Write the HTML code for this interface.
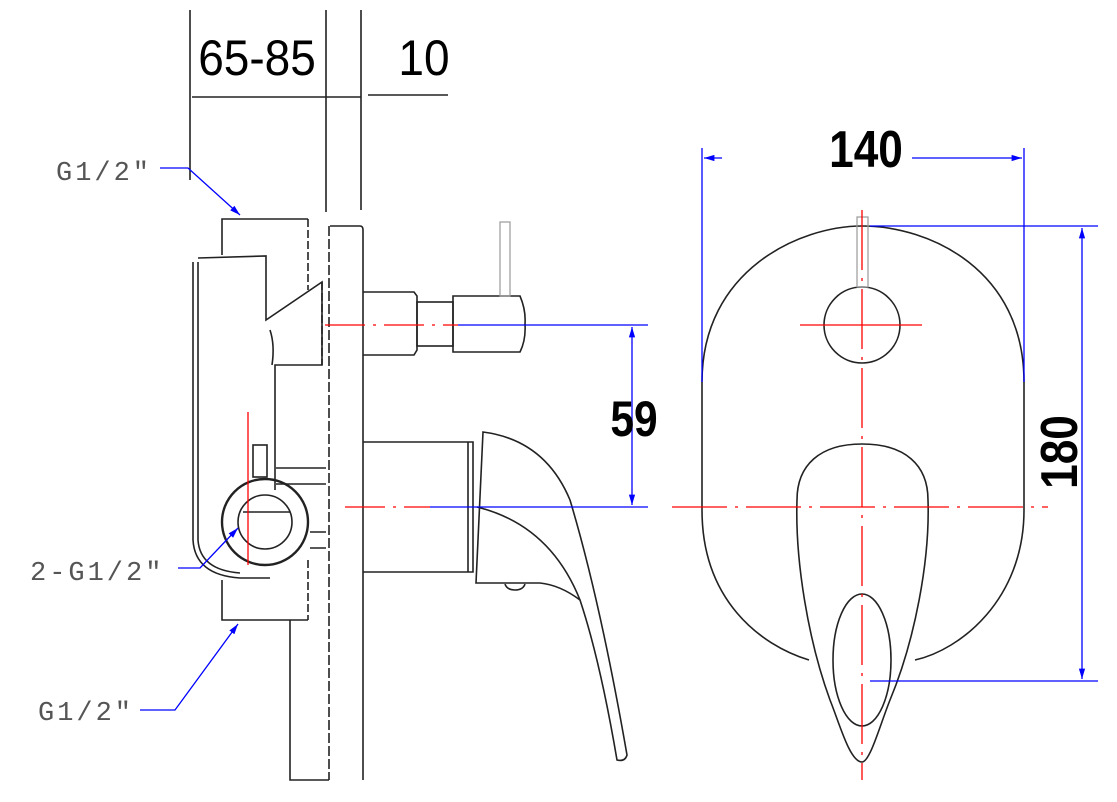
<!DOCTYPE html>
<html><head><style>body{margin:0;background:#fff}svg{display:block}</style></head><body>
<svg width="1117" height="802" viewBox="0 0 1117 802" xmlns="http://www.w3.org/2000/svg">
<defs>
<marker id="a" viewBox="0 0 10 10" refX="10" refY="5" markerWidth="8" markerHeight="10" orient="auto-start-reverse"><path d="M0,2 L10,5 L0,8 Z" fill="#0000ff"/></marker>
</defs>
<g fill="none" stroke="#222" stroke-width="1.6">
<line x1="190" y1="10" x2="190" y2="180"/>
<line x1="326" y1="10" x2="326" y2="212"/>
<line x1="361" y1="10" x2="361" y2="210"/>
<line x1="192" y1="97" x2="326" y2="97"/>
<line x1="326" y1="97" x2="361" y2="97"/>
<line x1="368" y1="95" x2="448" y2="95"/>
<path d="M222,255 V219 H308"/>
<path d="M308,219 V290" stroke-dasharray="8,3"/>
<path d="M193,262 V540 Q195,575 240,578 L270,578"/>
<path d="M198,258 L266,256 V320 L322,282 V365 H275 V490"/>
<path d="M198,262 V540 Q200,570 240,573"/>
<path d="M270,330 Q275,345 272,365"/>
<line x1="322" y1="282" x2="322" y2="365" stroke-dasharray="8,3"/>
<path d="M330,226 H360 Q363,226 363,230 V780"/>
<line x1="329" y1="226" x2="329" y2="780" stroke-dasharray="10,3"/>
<path d="M290,620 V780 H329"/>
<path d="M363,292 H414 L417,296 V350 L414,355 H363"/>
<rect x="417" y="302" width="36" height="44"/>
<path d="M453,296 H520 Q526,310 525,324 Q526,340 520,352 H453 Z"/>
<rect x="500" y="222" width="10" height="74" stroke="#999" stroke-width="1.2"/>
<path d="M363,442 H473 V572 H363"/>
<line x1="468" y1="442" x2="468" y2="572"/>
<path d="M276,468 H326 M276,484 H326 M310,532 H326 M310,548 H326"/>
<rect x="253" y="445" width="14" height="32"/>
<path d="M483,432 Q545,440 570,500 Q600,600 627,755 Q625,762 617,760 Q600,660 580,600 Q560,585 540,583 H476 Z"/>
<path d="M477,507 Q550,525 580,600"/>
<path d="M505,584 Q507,590 515,590 Q523,590 525,584"/>
<circle cx="265" cy="522" r="43" stroke-width="2.4"/>
<circle cx="265" cy="522" r="27"/>
<line x1="243" y1="512" x2="290" y2="512"/>
<path d="M222,580 V620 H308"/>
<line x1="308" y1="560" x2="308" y2="620" stroke-dasharray="8,3"/>
<path d="M702,382 C702,270 800,226 862,226 C930,226 1024,270 1024,382 V510 C1024,600 960,650 915,660"/>
<path d="M702,382 V510 C702,600 760,645 809,660"/>
<circle cx="862" cy="325" r="38"/>
<rect x="857" y="217" width="11" height="70" stroke="#999" stroke-width="1.2"/>
<path d="M862,444 C905,444 928,465 928,500 C930,560 915,640 890,700 C880,725 870,762 862,762 C850,762 840,725 830,700 C808,640 795,560 797,500 C797,465 820,444 862,444 Z"/>
<ellipse cx="862" cy="660" rx="29" ry="66"/>
</g>
<g stroke="#ff0000" stroke-width="1.3" fill="none">
<line x1="325" y1="325" x2="458" y2="325" stroke-dasharray="40,8,3,8"/>
<line x1="345" y1="507" x2="430" y2="507" stroke-dasharray="40,8,3,8"/>
<line x1="248" y1="412" x2="248" y2="565"/>
<line x1="862" y1="210" x2="862" y2="780" stroke-dasharray="60,8,3,8"/>
<line x1="672" y1="507" x2="1048" y2="507" stroke-dasharray="55,8,3,8"/>
<line x1="800" y1="325" x2="922" y2="325"/>
</g>
<g stroke="#0000ff" stroke-width="1.3" fill="none">
<line x1="458" y1="325" x2="648" y2="325"/>
<line x1="430" y1="507" x2="648" y2="507"/>
<line x1="632" y1="327" x2="632" y2="505" marker-start="url(#a)" marker-end="url(#a)"/>
<line x1="702" y1="148" x2="702" y2="382"/>
<line x1="1024" y1="148" x2="1024" y2="382"/>
<line x1="704" y1="158" x2="722" y2="158" marker-start="url(#a)"/>
<line x1="912" y1="158" x2="1022" y2="158" marker-end="url(#a)"/>
<line x1="870" y1="226" x2="1098" y2="226"/>
<line x1="870" y1="681" x2="1098" y2="681"/>
<line x1="1082" y1="228" x2="1082" y2="679" marker-start="url(#a)" marker-end="url(#a)"/>
<path d="M160,168 H188 L240,215" marker-end="url(#a)"/>
<path d="M178,568 H200 L238,528" marker-end="url(#a)"/>
<path d="M140,710 H175 L238,624" marker-end="url(#a)"/>
</g>
<g font-family="Liberation Sans, sans-serif" fill="#000">
<text transform="translate(257 75) scale(0.92 1)" font-size="50" text-anchor="middle">65-85</text>
<text transform="translate(424 75) scale(0.92 1)" font-size="50" text-anchor="middle">10</text>
<text transform="translate(866 167) scale(0.85 1)" font-size="52" font-weight="bold" text-anchor="middle">140</text>
<text transform="translate(634 436) scale(0.85 1)" font-size="50" font-weight="bold" text-anchor="middle">59</text>
<text transform="translate(1077 452) rotate(-90) scale(0.85 1)" font-size="52" font-weight="bold" text-anchor="middle">180</text>
<g fill="#555" font-size="27" font-family="Liberation Mono, monospace" letter-spacing="3">
<text x="56" y="180">G1/2″</text>
<text x="30" y="580">2-G1/2″</text>
<text x="38" y="720">G1/2″</text>
</g>
</g>
</svg>
</body></html>
